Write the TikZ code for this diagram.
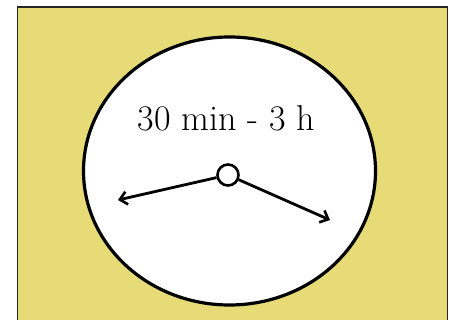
\documentclass[tikz,border=0pt]{standalone}
\usetikzlibrary{arrows.meta,shapes.geometric}
\definecolor{bgyellow}{RGB}{231,219,120}
\tikzset{
  hand/.style={line width=2.8pt,-{Straight Barb[length=7pt,width=13pt,line width=2.6pt]}},
  face/.style={draw=black,line width=3.2pt,fill=white},
}
\begin{document}
\begin{tikzpicture}[x=1pt,y=1pt]
\useasboundingbox (0,0) rectangle (449,320);
\clip (0,0) rectangle (449,320);
\fill[white] (0,0) rectangle (449,320);
\draw[fill=bgyellow,draw=black!85,line width=1.6pt] (17.5,313) rectangle (447.5,-5);
\node[face,ellipse,minimum width=292pt,minimum height=268pt,inner sep=0pt] (clock) at (229.5,149) {};
\node[font=\fontsize{36}{40}\selectfont] (lbl) at (226.5,202) {30 min - 3 h};
\node[circle,draw=black,line width=2.6pt,fill=white,minimum size=21pt,inner sep=0pt] (hub) at (228,145) {};
\coordinate (lt) at (118,120);
\coordinate (rt) at (330,100);
\draw[hand] (hub) -- (lt);
\draw[hand] (hub) -- (rt);
\end{tikzpicture}
\end{document}
